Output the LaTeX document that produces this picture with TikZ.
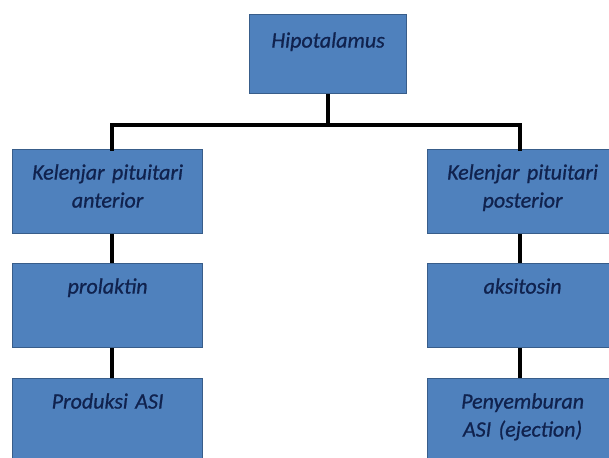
\documentclass[tikz,border=0pt]{standalone}
\usepackage{fontspec}
\setmainfont[WordSpace=0.8, ItalicFeatures={FakeBold=0.8}]{Carlito}
\usepackage{tikz}
\usetikzlibrary{positioning, calc}
\definecolor{boxblue}{HTML}{4F81BD}
\definecolor{boxedge}{HTML}{385D8A}
\definecolor{navytext}{HTML}{10224E}
\tikzset{
    organ box/.style={
        rectangle,
        anchor=north west,
        fill=boxblue,
        draw=boxedge,
        line width=1.2pt,
        text=navytext,
        font=\fontsize{22}{28}\selectfont\itshape,
        align=center,
        inner xsep=4pt,
        inner ysep=0pt,
        text width=182pt,
        text height=30pt,
        text depth=54pt
    },
    tree line/.style={
        line width=4pt,
        black
    }
}
\begin{document}
\begin{tikzpicture}[x=1pt, y=-1pt]
                % Frame of the page
                \clip (0,0) rectangle (609,457);
                \fill[white] (0,0) rectangle (609,457);

                % Top box
                \node[organ box, text width=149pt, text height=33pt, text depth=46pt] (hipo) at (249,14) {Hipotalamus};

                % Left column
                \node[organ box] (ant) at (12,149) {Kelenjar pituitari\\anterior};
                \node[organ box] (prl) at (12,263) {prolaktin};
                \node[organ box] (prod) at (12,378) {Produksi ASI};

                % Right column
                \node[organ box] (post) at (427,149) {Kelenjar pituitari\\posterior};
                \node[organ box] (oks) at (427,263) {aksitosin};
                \node[organ box] (eject) at (427,378) {Penyemburan\\ASI (ejection)};

                % Branch from the top box
                \draw[tree line] (hipo.south) -- ++(0,31) coordinate (fork);
                \draw[tree line, line cap=rect] ([xshift=4pt]ant.north) |- (fork) -| ([xshift=-3pt]post.north);

                % Down the columns
                \draw[tree line] ([xshift=4pt]ant.south) -- ([xshift=4pt]prl.north);
                \draw[tree line] ([xshift=4pt]prl.south) -- ([xshift=4pt]prod.north);
                \draw[tree line] ([xshift=-3pt]post.south) -- ([xshift=-3pt]oks.north);
                \draw[tree line] ([xshift=-3pt]oks.south) -- ([xshift=-3pt]eject.north);
            \end{tikzpicture}
\end{document}
